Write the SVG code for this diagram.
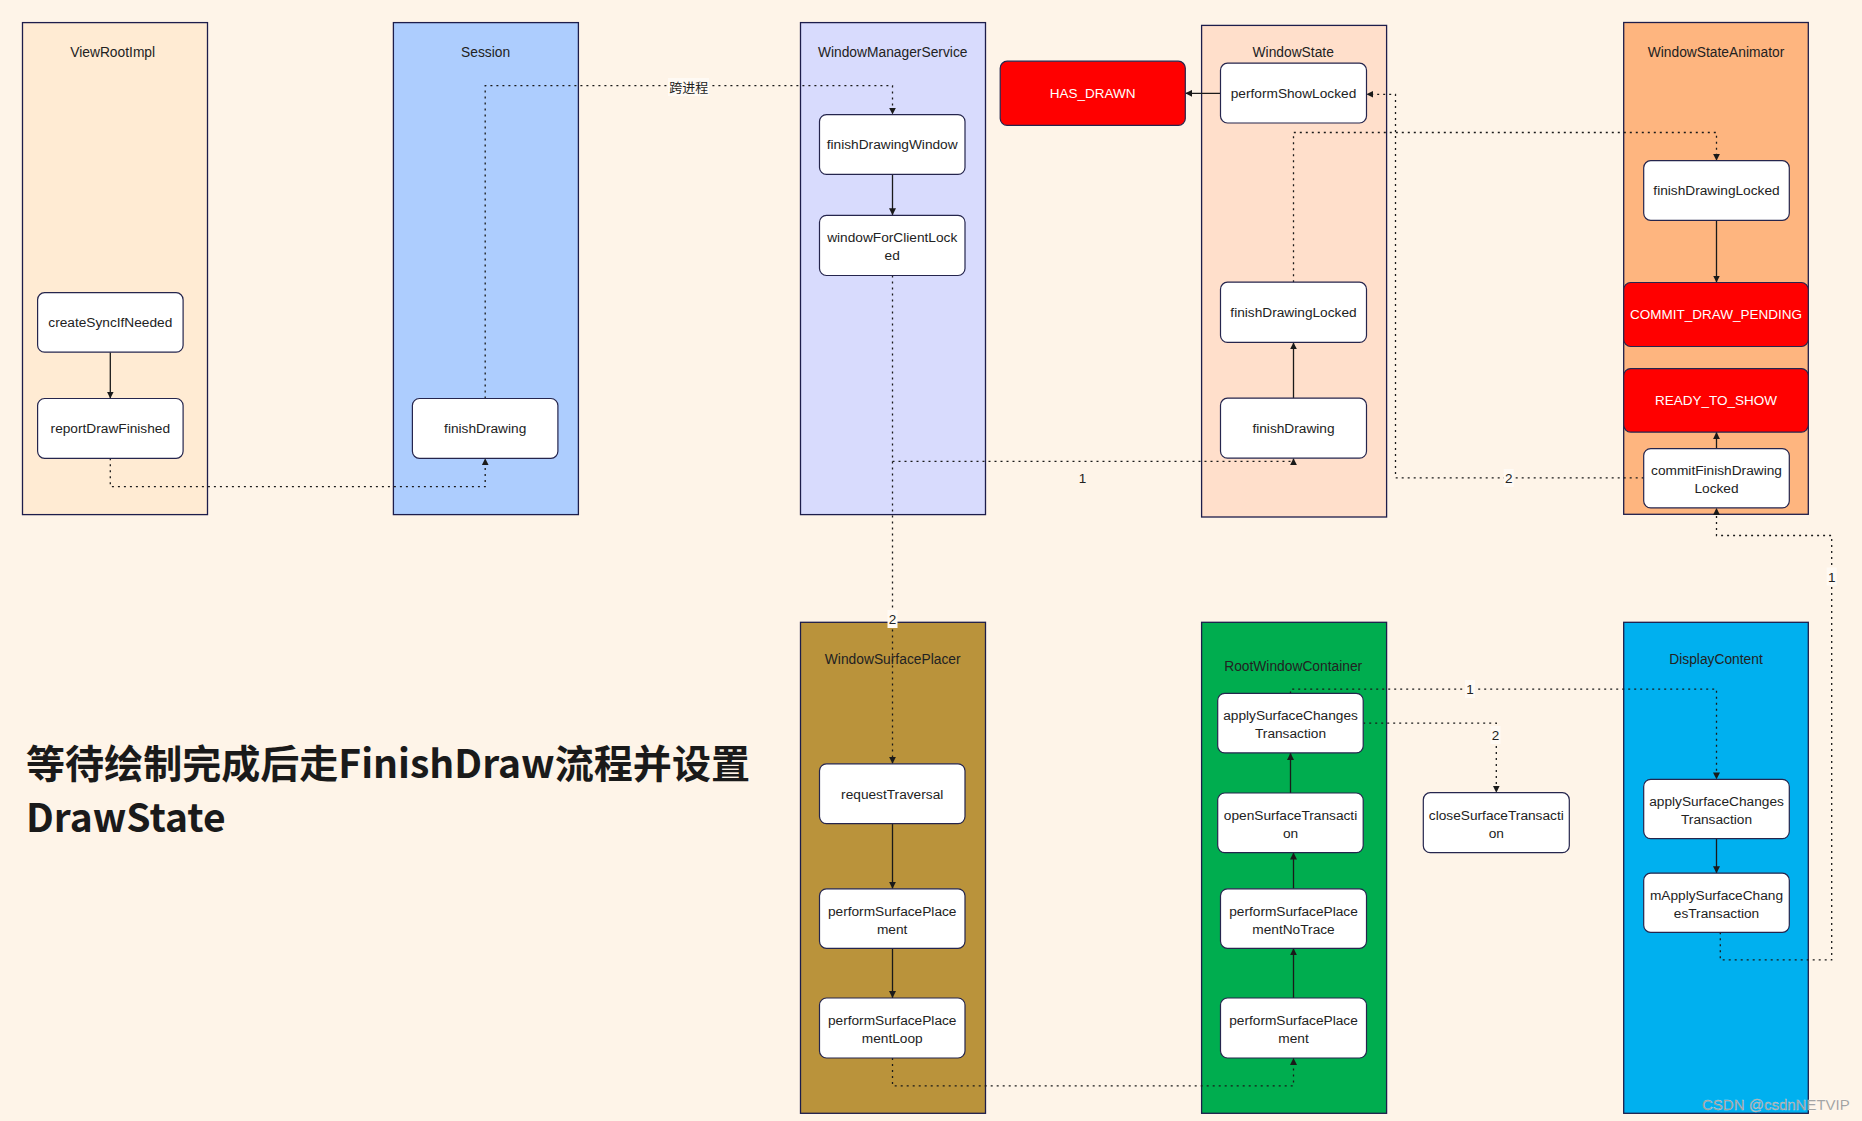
<svg xmlns="http://www.w3.org/2000/svg" width="1862" height="1121" viewBox="0 0 1862 1121">
<defs>
<style>
.lane{stroke:#1d1d4b;stroke-width:1.3}
.node{fill:#fff;stroke:#25254d;stroke-width:1.2}
.red{fill:#ff0000;stroke:#25254d;stroke-width:1.2}
.t{font-family:"Liberation Sans",Arial,sans-serif;font-size:13.7px;fill:#222;text-anchor:middle}
.tw{font-family:"Liberation Sans",Arial,sans-serif;font-size:13.5px;fill:#fff;text-anchor:middle}
.title{font-family:"Liberation Sans",Arial,sans-serif;font-size:13.8px;fill:#222;text-anchor:middle}
.lbl{font-family:"Liberation Sans","Noto Sans CJK SC",sans-serif;font-size:13.5px;fill:#222;text-anchor:middle}
.lblbg{fill:#fffaf4}
.head{font-family:"Noto Sans CJK SC",sans-serif;font-weight:bold;font-size:39px;fill:#1a1a1a}
.solid{fill:none;stroke:#1a1a1a;stroke-width:1.3;marker-end:url(#ah)}
.dota{fill:none;stroke:#1a1a1a;stroke-width:1.3;stroke-dasharray:2 4;marker-end:url(#ah)}
</style>
<marker id="ah" viewBox="0 0 10 10" refX="10" refY="5" markerWidth="7" markerHeight="7" orient="auto" markerUnits="userSpaceOnUse"><path d="M0,0 L10,5 L0,10 z" fill="#1a1a1a"/></marker>
</defs>
<rect width="1862" height="1121" fill="#fef4e8"/>

<g id="lanes">
<g id="lane-ViewRootImpl"><rect class="lane" x="22.5" y="22.6" width="185" height="492" fill="#ffebd3"/><text class="title" x="112.7" y="57.3">ViewRootImpl</text></g>
<g id="lane-Session"><rect class="lane" x="393.4" y="22.6" width="185" height="492" fill="#adcdfe"/><text class="title" x="485.6" y="57.3">Session</text></g>
<g id="lane-WindowManagerService"><rect class="lane" x="800.5" y="22.6" width="185" height="492" fill="#d8dbfd"/><text class="title" x="892.7" y="57.3">WindowManagerService</text></g>
<g id="lane-WindowState"><rect class="lane" x="1201.6" y="25.4" width="185" height="491.6" fill="#ffdfcb"/><text class="title" x="1293.2" y="57.3">WindowState</text></g>
<g id="lane-WindowStateAnimator"><rect class="lane" x="1623.7" y="22.5" width="184.6" height="491.8" fill="#feb57f"/><text class="title" x="1716" y="57.3">WindowStateAnimator</text></g>
<g id="lane-WindowSurfacePlacer"><rect class="lane" x="800.5" y="622.3" width="185" height="491" fill="#ba933b"/><text class="title" x="892.7" y="664.1">WindowSurfacePlacer</text></g>
<g id="lane-RootWindowContainer"><rect class="lane" x="1201.6" y="622.3" width="185" height="491" fill="#00ad4f"/><text class="title" x="1293.2" y="671.4">RootWindowContainer</text></g>
<g id="lane-DisplayContent"><rect class="lane" x="1623.7" y="622.3" width="184.6" height="491" fill="#00b0ef"/><text class="title" x="1716" y="664.1">DisplayContent</text></g>
</g>

<g id="connectors">
<path class="solid" d="M110.3,352.2 V398.5"/>
<path class="solid" d="M892.5,174.4 V215.3"/>
<path class="solid" d="M1220.5,93.3 H1185.3"/>
<path class="solid" d="M1293.5,398.2 V342.4"/>
<path class="solid" d="M1716.5,220.3 V282.5"/>
<path class="solid" d="M1716.5,448.6 V432.1"/>
<path class="solid" d="M892.5,823.6 V888.8"/>
<path class="solid" d="M892.5,948.3 V998"/>
<path class="solid" d="M1293.5,998 V948.3"/>
<path class="solid" d="M1293.5,888.8 V852.6"/>
<path class="solid" d="M1290.5,793 V752.9"/>
<path class="solid" d="M1716.5,838.6 V873.2"/>

<path class="dota" d="M110.3,458.3 V486.7 H485.2 V458.3"/>
<path class="dota" d="M485.2,398.5 V85.7 H892.5 V114.6"/>
<path class="dota" d="M892.5,275.5 V763.8"/>
<path class="dota" d="M892.5,461.4 H1293.5 V458.2"/>
<path class="dota" d="M1293.5,282.2 V132.5 H1716.5 V160.7"/>
<path class="dota" d="M1643.7,477.8 H1395.5 V94.3 H1366.4"/>
<path class="dota" d="M892.5,1058 V1085.8 H1293.5 V1058"/>
<path class="dota" d="M1290.5,693.4 V689.1 H1716.5 V779.4"/>
<path class="dota" d="M1363.2,723.1 H1496.3 V792.7"/>
<path class="dota" d="M1720.3,932.3 V959.9 H1831.7 V535.5 H1716.5 V507.9"/>

<rect class="lblbg" x="668" y="78" width="41" height="18"/>
<text class="lbl" x="688.8" y="91.5" style="font-family:'Noto Sans CJK SC',sans-serif;font-size:13px">跨进程</text>
<text class="lbl" x="1082.5" y="483.3">1</text>
<rect class="lblbg" x="887.5" y="610" width="10" height="18"/>
<text class="lbl" x="892.5" y="624">2</text>
<rect class="lblbg" x="1503.7" y="469" width="10" height="18"/>
<text class="lbl" x="1508.7" y="482.8">2</text>
<rect class="lblbg" x="1465" y="680" width="10" height="18"/>
<text class="lbl" x="1470" y="694.3">1</text>
<rect class="lblbg" x="1490.5" y="726" width="10" height="18"/>
<text class="lbl" x="1495.5" y="740">2</text>
<rect class="lblbg" x="1826.7" y="567.5" width="10" height="18"/>
<text class="lbl" x="1831.7" y="581.7">1</text>
</g>

<g id="n-createSyncIfNeeded"><rect class="node" x="37.6" y="292.7" width="145.5" height="59.5" rx="7"/><text class="t" x="110.3" y="327.3">createSyncIfNeeded</text></g>
<g id="n-reportDrawFinished"><rect class="node" x="37.6" y="398.5" width="145.5" height="59.8" rx="7"/><text class="t" x="110.3" y="433.2">reportDrawFinished</text></g>
<g id="n-session-finishDrawing"><rect class="node" x="412.4" y="398.5" width="145.5" height="59.8" rx="7"/><text class="t" x="485.2" y="433.2">finishDrawing</text></g>
<g id="n-finishDrawingWindow"><rect class="node" x="819.5" y="114.6" width="145.5" height="59.8" rx="7"/><text class="t" x="892.2" y="149.3">finishDrawingWindow</text></g>
<g id="n-windowForClientLocked"><rect class="node" x="819.5" y="215.3" width="145.5" height="60.2" rx="7"/><text class="t" x="892.2" y="242.4">windowForClientLock</text><text class="t" x="892.2" y="260.4">ed</text></g>
<g id="n-HAS_DRAWN"><rect class="red" x="1000.2" y="61.2" width="185.1" height="64.2" rx="7"/><text class="tw" x="1092.7" y="98.1">HAS_DRAWN</text></g>
<g id="n-performShowLocked"><rect class="node" x="1220.5" y="63.2" width="146" height="59.8" rx="7"/><text class="t" x="1293.5" y="97.9">performShowLocked</text></g>
<g id="n-ws-finishDrawingLocked"><rect class="node" x="1220.5" y="282.2" width="146" height="60.2" rx="7"/><text class="t" x="1293.5" y="317.1">finishDrawingLocked</text></g>
<g id="n-ws-finishDrawing"><rect class="node" x="1220.5" y="398.2" width="146" height="60" rx="7"/><text class="t" x="1293.5" y="433">finishDrawing</text></g>
<g id="n-wsa-finishDrawingLocked"><rect class="node" x="1643.7" y="160.7" width="145.6" height="59.6" rx="7"/><text class="t" x="1716.5" y="195.3">finishDrawingLocked</text></g>
<g id="n-COMMIT_DRAW_PENDING"><rect class="red" x="1623.7" y="282.5" width="184.6" height="64" rx="7"/><text class="tw" x="1716" y="319.3">COMMIT_DRAW_PENDING</text></g>
<g id="n-READY_TO_SHOW"><rect class="red" x="1623.7" y="368.6" width="184.6" height="63.5" rx="7"/><text class="tw" x="1716" y="405.2">READY_TO_SHOW</text></g>
<g id="n-commitFinishDrawingLocked"><rect class="node" x="1643.7" y="448.6" width="145.6" height="59.3" rx="7"/><text class="t" x="1716.5" y="475">commitFinishDrawing</text><text class="t" x="1716.5" y="493">Locked</text></g>
<g id="n-requestTraversal"><rect class="node" x="819.5" y="763.8" width="145.5" height="59.8" rx="7"/><text class="t" x="892.2" y="798.5">requestTraversal</text></g>
<g id="n-wsp-performSurfacePlacement"><rect class="node" x="819.5" y="888.8" width="145.5" height="59.5" rx="7"/><text class="t" x="892.2" y="915.5">performSurfacePlace</text><text class="t" x="892.2" y="933.5">ment</text></g>
<g id="n-performSurfacePlacementLoop"><rect class="node" x="819.5" y="998" width="145.5" height="60" rx="7"/><text class="t" x="892.2" y="1025">performSurfacePlace</text><text class="t" x="892.2" y="1043">mentLoop</text></g>
<g id="n-rwc-applySurfaceChangesTransaction"><rect class="node" x="1217.7" y="693.4" width="145.5" height="59.5" rx="7"/><text class="t" x="1290.5" y="719.8">applySurfaceChanges</text><text class="t" x="1290.5" y="737.8">Transaction</text></g>
<g id="n-openSurfaceTransaction"><rect class="node" x="1217.7" y="793" width="145.5" height="59.6" rx="7"/><text class="t" x="1290.5" y="819.7">openSurfaceTransacti</text><text class="t" x="1290.5" y="837.7">on</text></g>
<g id="n-performSurfacePlacementNoTrace"><rect class="node" x="1220.5" y="888.8" width="146" height="59.5" rx="7"/><text class="t" x="1293.5" y="915.5">performSurfacePlace</text><text class="t" x="1293.5" y="933.5">mentNoTrace</text></g>
<g id="n-rwc-performSurfacePlacement"><rect class="node" x="1220.5" y="998" width="146" height="60" rx="7"/><text class="t" x="1293.5" y="1025">performSurfacePlace</text><text class="t" x="1293.5" y="1043">ment</text></g>
<g id="n-closeSurfaceTransaction"><rect class="node" x="1423.3" y="792.7" width="146" height="60" rx="7"/><text class="t" x="1496.3" y="819.7">closeSurfaceTransacti</text><text class="t" x="1496.3" y="837.7">on</text></g>
<g id="n-dc-applySurfaceChangesTransaction"><rect class="node" x="1643.7" y="779.4" width="145.6" height="59.2" rx="7"/><text class="t" x="1716.5" y="805.8">applySurfaceChanges</text><text class="t" x="1716.5" y="823.8">Transaction</text></g>
<g id="n-mApplySurfaceChangesTransaction"><rect class="node" x="1643.7" y="873.2" width="145.6" height="59.1" rx="7"/><text class="t" x="1716.5" y="899.5">mApplySurfaceChang</text><text class="t" x="1716.5" y="917.5">esTransaction</text></g>

<g id="heading">
<text class="head" x="26" y="778" textLength="724" lengthAdjust="spacingAndGlyphs">等待绘制完成后走FinishDraw流程并设置</text>
<text class="head" x="26" y="832">DrawState</text>
</g>
<text x="1702" y="1110" style="font-family:'Liberation Sans',Arial,sans-serif;font-size:15px;fill:#8f8f8f;stroke:#ffffff;stroke-width:0.4;stroke-opacity:0.6">CSDN @csdnNETVIP</text>
</svg>
